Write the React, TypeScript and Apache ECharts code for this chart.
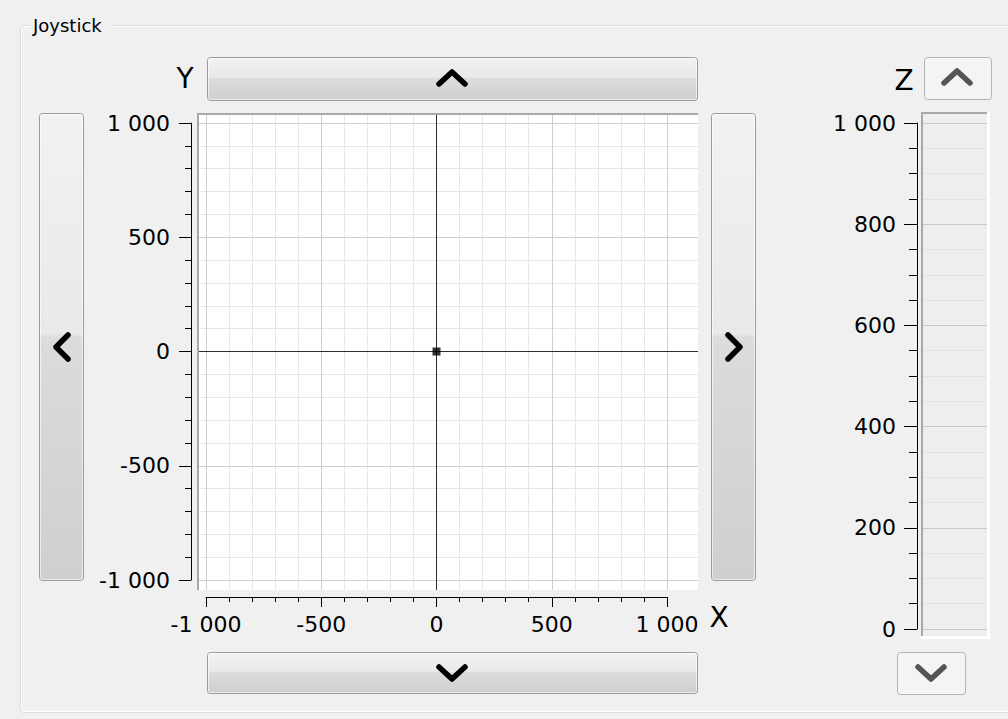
import React, { useEffect, useRef } from "react";
import * as echarts from "echarts";

// ---- data ----
const TITLE = "Joystick";
const X_TICKS = [-1000, -500, 0, 500, 1000];
const Y_TICKS = [-1000, -500, 0, 500, 1000];
const XY_MAJOR_GRID = [-1000, -500, 500, 1000];
const XY_MINOR_GRID = [-900, -800, -700, -600, -400, -300, -200, -100, 100, 200, 300, 400, 600, 700, 800, 900];
const Z_TICKS = [0, 200, 400, 600, 800, 1000];
const Z_MAJOR_GRID = [0, 200, 400, 600, 800, 1000];
const Z_MINOR_GRID = [50, 100, 150, 250, 300, 350, 450, 500, 550, 650, 700, 750, 850, 900, 950];
const POSITION = [[0, 0]];

const FONT = "DejaVu Sans";

function fmt(v: number): string {
  const s = Math.abs(v).toString().replace(/\B(?=(\d{3})+(?!\d))/g, " ");
  return (v < 0 ? "-" : "") + s;
}

function btnGrad() {
  return new echarts.graphic.LinearGradient(0, 0, 0, 1, [
    { offset: 0, color: "#f2f2f2" },
    { offset: 0.47, color: "#e9e9e9" },
    { offset: 0.48, color: "#dcdcdc" },
    { offset: 1, color: "#cfcfcf" },
  ]);
}

function mainButton(x: number, y: number, w: number, h: number, pts: number[][]) {
  return [
    {
      type: "rect",
      z: 50,
      shape: { x: x + 0.5, y: y + 0.5, width: w, height: h, r: 3 },
      style: { fill: btnGrad(), stroke: "#9c9c9c", lineWidth: 1 },
    },
    {
      type: "rect",
      z: 51,
      shape: { x: x + 1.5, y: y + 1.5, width: w - 2, height: h - 2, r: 2 },
      style: { fill: "none", stroke: "rgba(255,255,255,0.6)", lineWidth: 1 },
    },
    {
      type: "polyline",
      z: 52,
      shape: { points: pts },
      style: { stroke: "#000", lineWidth: 5.5, lineCap: "round", lineJoin: "round", fill: "none" },
    },
  ];
}

function zButton(x: number, y: number, w: number, h: number, pts: number[][]) {
  return [
    {
      type: "rect",
      z: 50,
      shape: { x: x + 0.5, y: y + 0.5, width: w, height: h, r: 3 },
      style: { fill: "#f4f4f4", stroke: "#b4b4b4", lineWidth: 1 },
    },
    {
      type: "polyline",
      z: 52,
      shape: { points: pts },
      style: { stroke: "#555555", lineWidth: 5.5, lineCap: "round", lineJoin: "round", fill: "none" },
    },
  ];
}

const axisText = { color: "#000", fontFamily: FONT, fontSize: 22 };

export default function App() {
  const ref = useRef<HTMLDivElement>(null);
  useEffect(() => {
    if (!ref.current) return;
    const chart = echarts.init(ref.current, undefined, { renderer: "svg" });

    // main canvas (197..698 x, 113..590 y); data range -1000..1000 -> 206..667 x, 123..580 y
    const xUnitsPerPx = 2000 / 461;
    const yUnitsPerPx = 2000 / 457;
    const zUnitsPerPx = 1000 / 506;

    const option: any = {
      animation: false,
      backgroundColor: "#f0f0f0",
      grid: [
        { left: 197, top: 113, width: 501, height: 477, show: true, backgroundColor: "#ffffff", borderWidth: 0 },
        { left: 191, top: 123, width: 1, height: 457 },
        { left: 206, top: 590, width: 461, height: 7 },
        { left: 917, top: 123, width: 1, height: 506 },
        { left: 922, top: 112, width: 68, height: 526, show: true, backgroundColor: "#eeeeee", borderWidth: 0 },
      ],
      xAxis: [
        { gridIndex: 0, type: "value", show: false, min: -1000 - 9 * xUnitsPerPx, max: 1000 + 31 * xUnitsPerPx },
        { gridIndex: 1, type: "value", show: false, min: 0, max: 1 },
        {
          gridIndex: 2,
          type: "value",
          position: "bottom",
          min: X_TICKS[0],
          max: X_TICKS[X_TICKS.length - 1],
          interval: 500,
          axisLine: { show: true, lineStyle: { color: "#000", width: 1 } },
          axisTick: { show: true, length: 10, lineStyle: { color: "#000", width: 1 } },
          minorTick: { show: true, splitNumber: 5, length: 5, lineStyle: { color: "#000", width: 1 } },
          splitLine: { show: false },
          axisLabel: { ...axisText, margin: 16, formatter: (v: number) => fmt(v), showMinLabel: true, showMaxLabel: true },
        },
        { gridIndex: 3, type: "value", show: false, min: 0, max: 1 },
        { gridIndex: 4, type: "value", show: false, min: 0, max: 1 },
      ],
      yAxis: [
        { gridIndex: 0, type: "value", show: false, min: -1000 - 10 * yUnitsPerPx, max: 1000 + 10 * yUnitsPerPx },
        {
          gridIndex: 1,
          type: "value",
          position: "left",
          min: Y_TICKS[0],
          max: Y_TICKS[Y_TICKS.length - 1],
          interval: 500,
          axisLine: { show: true, lineStyle: { color: "#000", width: 1 } },
          axisTick: { show: true, length: 12, lineStyle: { color: "#000", width: 1 } },
          minorTick: { show: true, splitNumber: 5, length: 6, lineStyle: { color: "#000", width: 1 } },
          splitLine: { show: false },
          axisLabel: { ...axisText, margin: 21, formatter: (v: number) => fmt(v), showMinLabel: true, showMaxLabel: true },
        },
        { gridIndex: 2, type: "value", show: false, min: 0, max: 1 },
        {
          gridIndex: 3,
          type: "value",
          position: "left",
          min: Z_TICKS[0],
          max: Z_TICKS[Z_TICKS.length - 1],
          interval: 200,
          axisLine: { show: true, lineStyle: { color: "#000", width: 1 } },
          axisTick: { show: true, length: 13, lineStyle: { color: "#000", width: 1 } },
          minorTick: { show: true, splitNumber: 4, length: 8, lineStyle: { color: "#000", width: 1 } },
          splitLine: { show: false },
          axisLabel: { ...axisText, margin: 21, formatter: (v: number) => fmt(v), showMinLabel: true, showMaxLabel: true },
        },
        { gridIndex: 4, type: "value", show: false, min: 0 - 9 * zUnitsPerPx, max: 1000 + 11 * zUnitsPerPx },
      ],
      series: [
        {
          type: "line",
          xAxisIndex: 0,
          yAxisIndex: 0,
          data: [],
          z: 1,
          markLine: {
            silent: true,
            symbol: ["none", "none"],
            label: { show: false },
            lineStyle: { color: "#e7e7e7", width: 1, type: "solid" },
            data: [...XY_MINOR_GRID.map((v) => ({ xAxis: v })), ...XY_MINOR_GRID.map((v) => ({ yAxis: v }))],
          },
        },
        {
          type: "line",
          xAxisIndex: 0,
          yAxisIndex: 0,
          data: [],
          z: 2,
          markLine: {
            silent: true,
            symbol: ["none", "none"],
            label: { show: false },
            lineStyle: { color: "#cecece", width: 1, type: "solid" },
            data: [...XY_MAJOR_GRID.map((v) => ({ xAxis: v })), ...XY_MAJOR_GRID.map((v) => ({ yAxis: v }))],
          },
        },
        {
          type: "scatter",
          xAxisIndex: 0,
          yAxisIndex: 0,
          data: POSITION,
          symbol: "rect",
          symbolSize: 8,
          itemStyle: { color: "#000" },
          z: 5,
          markLine: {
            silent: true,
            symbol: ["none", "none"],
            label: { show: false },
            lineStyle: { color: "#2e2e2e", width: 1, type: "solid" },
            data: [{ xAxis: POSITION[0][0] }, { yAxis: POSITION[0][1] }],
          },
        },
        {
          type: "line",
          xAxisIndex: 4,
          yAxisIndex: 4,
          data: [],
          z: 1,
          markLine: {
            silent: true,
            symbol: ["none", "none"],
            label: { show: false },
            lineStyle: { color: "#e2e2e2", width: 1, type: "solid" },
            data: Z_MINOR_GRID.map((v) => ({ yAxis: v })),
          },
        },
        {
          type: "line",
          xAxisIndex: 4,
          yAxisIndex: 4,
          data: [],
          z: 2,
          markLine: {
            silent: true,
            symbol: ["none", "none"],
            label: { show: false },
            lineStyle: { color: "#c8c8c8", width: 1, type: "solid" },
            data: Z_MAJOR_GRID.map((v) => ({ yAxis: v })),
          },
        },
      ],
      graphic: [
        // group box
        {
          type: "rect",
          z: 0,
          shape: { x: 20.5, y: 25.5, width: 1000, height: 687, r: 3 },
          style: { fill: "none", stroke: "#d8dfe4", lineWidth: 1 },
        },
        {
          type: "rect",
          z: 0,
          shape: { x: 21.5, y: 26.5, width: 1000, height: 685, r: 3 },
          style: { fill: "none", stroke: "#ffffff", lineWidth: 1 },
        },
        {
          type: "rect",
          z: 1,
          shape: { x: 29, y: 18, width: 81, height: 14 },
          style: { fill: "#f0f0f0" },
        },
        {
          type: "text",
          z: 2,
          x: 33,
          y: 25,
          style: { text: TITLE, fill: "#000", font: `18px '${FONT}'`, textVerticalAlign: "middle" },
        },
        // main canvas frame (sunken)
        { type: "rect", z: 40, shape: { x: 197, y: 113, width: 2, height: 477 }, style: { fill: "#a8a8a8" } },
        { type: "rect", z: 40, shape: { x: 197, y: 113, width: 501, height: 2 }, style: { fill: "#a8a8a8" } },
        // Z canvas frame
        { type: "rect", z: 40, shape: { x: 921, y: 112, width: 2, height: 526 }, style: { fill: "#a8a8a8" } },
        { type: "rect", z: 40, shape: { x: 921, y: 112, width: 69, height: 2 }, style: { fill: "#a8a8a8" } },
        { type: "rect", z: 40, shape: { x: 987, y: 112, width: 3, height: 527 }, style: { fill: "#ffffff" } },
        { type: "rect", z: 40, shape: { x: 921, y: 636, width: 69, height: 3 }, style: { fill: "#ffffff" } },
        // axis titles
        {
          type: "text", z: 20, x: 185, y: 78,
          style: { text: "Y", fill: "#000", font: `28px '${FONT}'`, textAlign: "center", textVerticalAlign: "middle" },
        },
        {
          type: "text", z: 20, x: 719, y: 617,
          style: { text: "X", fill: "#000", font: `28px '${FONT}'`, textAlign: "center", textVerticalAlign: "middle" },
        },
        {
          type: "text", z: 20, x: 904, y: 80,
          style: { text: "Z", fill: "#000", font: `28px '${FONT}'`, textAlign: "center", textVerticalAlign: "middle" },
        },
        // buttons
        ...mainButton(207, 57, 490, 43, [[439, 84], [452, 72], [465, 84]]),
        ...mainButton(207, 652, 490, 41, [[439, 667], [452, 679], [465, 667]]),
        ...mainButton(39, 113, 44, 467, [[68, 335], [56, 347], [68, 359]]),
        ...mainButton(711, 113, 44, 467, [[728, 335], [740, 347], [728, 359]]),
        ...zButton(924, 57, 67, 42, [[944, 83], [957, 71], [970, 83]]),
        ...zButton(897, 652, 68, 42, [[918, 667], [931, 679], [944, 667]]),
      ],
    };

    chart.setOption(option);
    return () => chart.dispose();
  }, []);

  return (
    <div
      ref={ref}
      style={{ position: "fixed", left: 0, top: 0, width: 1008, height: 719 }}
    />
  );
}
